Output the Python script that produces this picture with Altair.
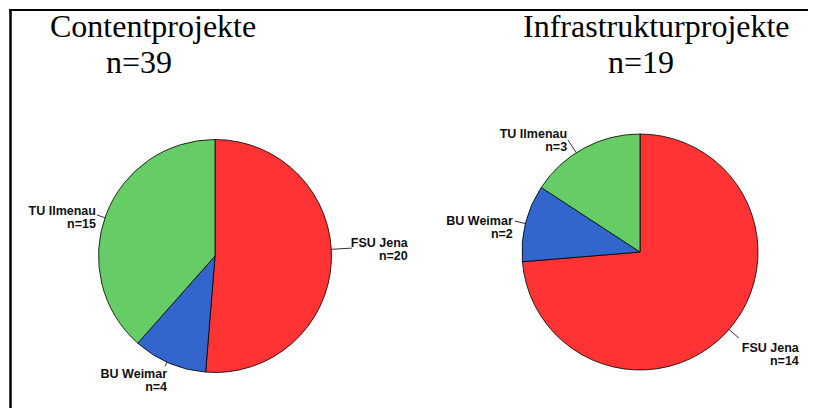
import math
import altair as alt
import pandas as pd

# ---- data ----
panels = ["Contentprojekte", "Infrastrukturprojekte"]
panel_totals = ["n=39", "n=19"]
unis = ["FSU Jena", "BU Weimar", "TU Ilmenau"]
content_counts = [20, 4, 15]
infra_counts = [14, 2, 3]
colors = ["#FF3333", "#3366CC", "#66CC66"]

# ---- layout (pixels) ----
H = 400
PIE = {
    "Contentprojekte": dict(cx=207, cy=247, r=116.5, w=420),
    "Infrastrukturprojekte": dict(cx=212, cy=243, r=118, w=381),
}
TOTAL_W = 420 + 381
# leader outer radius, angle shift (deg), text dx, text dy
LABEL = {
    ("Contentprojekte", "FSU Jena"): (137, -5.6, 56, -1),
    ("Contentprojekte", "BU Weimar"): (121, 1.3, 2, 12),
    ("Contentprojekte", "TU Ilmenau"): (125, -1.6, -1, 0),
    ("Infrastrukturprojekte", "FSU Jena"): (131, -1.6, 60, 14),
    ("Infrastrukturprojekte", "BU Weimar"): (129, -0.3, -2, 4),
    ("Infrastrukturprojekte", "TU Ilmenau"): (133, -4.3, -1, -2),
}
TITLE_POS = {
    "Contentprojekte": ((42, 28), (98, 64)),
    "Infrastrukturprojekte": ((95, 28), (180, 64)),
}


def pie(panel, total_txt, counts, border):
    p = PIE[panel]
    cx, cy, r, w = p["cx"], p["cy"], p["r"], p["w"]
    rows = []
    for k, (u, c) in enumerate(zip(unis, counts)):
        rL, dA, tdx, tdy = LABEL[(panel, u)]
        rows.append(dict(uni=u, n=c, k=k, rL=rL, dA=dA, tdx=tdx, tdy=tdy))
    df = pd.DataFrame(rows)

    base = (
        alt.Chart(df)
        .transform_joinaggregate(total="sum(n)")
        .transform_window(cum="sum(n)", sort=[alt.SortField("k")])
        .transform_calculate(
            t1="datum.cum / datum.total",
            t0="(datum.cum - datum.n) / datum.total",
        )
        .transform_calculate(
            mid="(datum.t0 + datum.t1) * PI + datum.dA * PI / 180",
        )
        .transform_calculate(
            ex=f"{cx} + {r} * sin(datum.mid)",
            ey=f"{cy} - {r} * cos(datum.mid)",
            lx=f"{cx} + datum.rL * sin(datum.mid)",
            ly=f"{cy} - datum.rL * cos(datum.mid)",
        )
        .transform_calculate(
            tx="datum.lx + datum.tdx",
            ty="datum.ly + datum.tdy",
            label="datum.uni + '\\n' + 'n=' + datum.n",
        )
    )

    arcs = base.mark_arc(radius=r, stroke="black", strokeWidth=0.8).encode(
        theta=alt.Theta("t0:Q", scale=alt.Scale(domain=[0, 1])),
        theta2="t1:Q",
        color=alt.Color("uni:N", scale=alt.Scale(domain=unis, range=colors), legend=None),
        x=alt.value(cx),
        y=alt.value(cy),
    )
    lines = base.mark_rule(color="black", strokeWidth=0.8).encode(
        x=alt.X("ex:Q", scale=None, axis=None),
        y=alt.Y("ey:Q", scale=None, axis=None),
        x2="lx:Q",
        y2="ly:Q",
    )
    labels = base.mark_text(
        align="right", baseline="alphabetic", font="Liberation Sans",
        fontWeight="bold", fontSize=12.5, lineBreak="\n", lineHeight=13, color="#111111",
    ).encode(
        x=alt.X("tx:Q", scale=None, axis=None),
        y=alt.Y("ty:Q", scale=None, axis=None),
        text="label:N",
    )

    one = alt.Data(values=[{"a": 1}])
    (t1x, t1y), (t2x, t2y) = TITLE_POS[panel]
    title1 = alt.Chart(one).mark_text(
        align="left", baseline="alphabetic", font="Liberation Serif", fontSize=32, color="black"
    ).encode(x=alt.value(t1x), y=alt.value(t1y), text=alt.value(panel))
    title2 = alt.Chart(one).mark_text(
        align="left", baseline="alphabetic", font="Liberation Serif", fontSize=32, color="black"
    ).encode(x=alt.value(t2x), y=alt.value(t2y), text=alt.value(total_txt))

    layers = [arcs, lines, labels, title1, title2]
    if border:
        top = alt.Chart(one).mark_rule(color="black", strokeWidth=2).encode(
            x=alt.value(1), x2=alt.value(TOTAL_W - 1), y=alt.value(1)
        )
        left = alt.Chart(one).mark_rule(color="black", strokeWidth=2.5).encode(
            x=alt.value(2.5), y=alt.value(1), y2=alt.value(H - 1)
        )
        layers += [top, left]
    return alt.layer(*layers).properties(width=w, height=H)


left_chart = pie(panels[0], panel_totals[0], content_counts, True)
right_chart = pie(panels[1], panel_totals[1], infra_counts, False)

chart = (
    alt.hconcat(left_chart, right_chart, spacing=0, bounds="flush")
    .properties(padding=0, background="white")
    .configure_view(strokeWidth=0)
)

chart.save("out.html", embed_options={"renderer": "svg", "actions": False})
